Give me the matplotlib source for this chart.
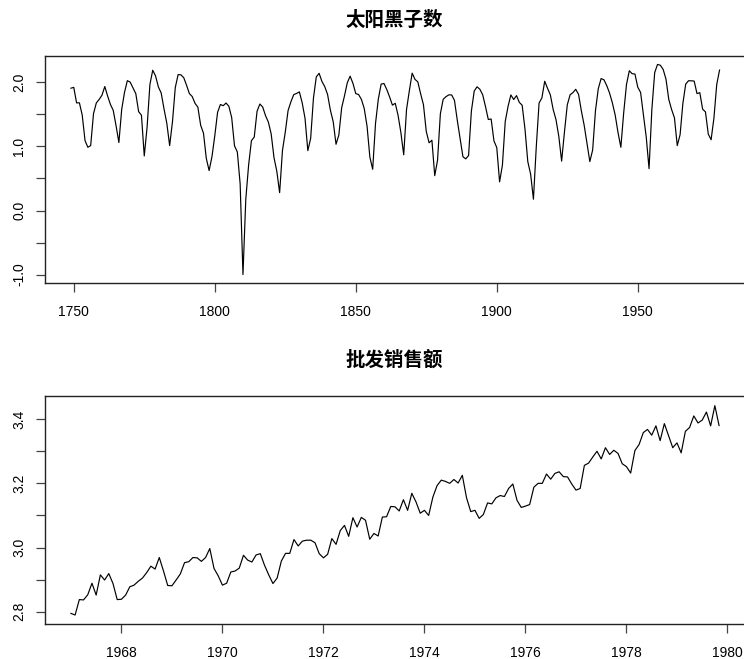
import numpy as np
import matplotlib
matplotlib.use("Agg")
import matplotlib.pyplot as plt

plt.rcParams['font.family'] = ['Liberation Sans', 'DejaVu Sans']

# yearly sunspot numbers, 1749-1979
sunspot_start = 1749
sunspot_counts = [
    80.9,
    83.4, 47.7, 47.8, 30.7, 12.2, 9.6, 10.2, 32.4, 47.6, 54.0,
    62.9, 85.9, 61.2, 45.1, 36.4, 20.9, 11.4, 37.8, 69.8, 106.1,
    100.8, 81.6, 66.5, 34.8, 30.6, 7.0, 19.8, 92.5, 154.4, 125.9,
    84.8, 68.1, 38.5, 22.8, 10.2, 24.1, 82.9, 132.0, 130.9, 118.1,
    89.9, 66.6, 60.0, 46.9, 41.0, 21.3, 16.0, 6.4, 4.1, 6.8,
    14.5, 34.0, 45.0, 43.1, 47.5, 42.2, 28.1, 10.1, 8.1, 2.5,
    0.0, 1.4, 5.0, 12.2, 13.9, 35.4, 45.8, 41.1, 30.1, 23.9,
    15.6, 6.6, 4.0, 1.8, 8.5, 16.6, 36.3, 49.6, 64.2, 67.0,
    70.9, 47.8, 27.5, 8.5, 13.2, 56.9, 121.5, 138.3, 103.2, 85.7,
    64.6, 36.7, 24.2, 10.7, 15.0, 40.1, 61.5, 98.5, 124.7, 96.3,
    66.6, 64.5, 54.1, 39.0, 20.6, 6.7, 4.3, 22.7, 54.8, 93.8,
    95.8, 77.2, 59.1, 44.0, 47.0, 30.5, 16.3, 7.3, 37.6, 74.0,
    139.0, 111.2, 101.6, 66.2, 44.7, 17.0, 11.3, 12.4, 3.4, 6.0,
    32.3, 54.3, 59.7, 63.7, 63.5, 52.2, 25.4, 13.1, 6.8, 6.3,
    7.1, 35.6, 73.0, 85.1, 78.0, 64.0, 41.8, 26.2, 26.7, 12.1,
    9.5, 2.7, 5.0, 24.4, 42.0, 63.5, 53.8, 62.0, 48.5, 43.9,
    18.6, 5.7, 3.6, 1.4, 9.6, 47.4, 57.1, 103.9, 80.6, 63.6,
    37.6, 26.1, 14.2, 5.8, 16.7, 44.3, 63.9, 69.0, 77.8, 64.9,
    35.7, 21.2, 11.1, 5.7, 8.7, 36.1, 79.7, 114.4, 109.6, 88.8,
    67.8, 47.5, 30.6, 16.3, 9.6, 33.2, 92.6, 151.6, 136.3, 134.7,
    83.9, 69.4, 31.5, 13.9, 4.4, 38.0, 141.7, 190.2, 184.8, 159.0,
    112.3, 53.9, 37.5, 27.9, 10.2, 15.1, 47.0, 93.8, 105.9, 105.5,
    104.5, 66.6, 68.9, 38.0, 34.5, 15.5, 12.6, 27.5, 92.5, 155.4,
]

# monthly wholesale sales (log10), Jan 1967 - Nov 1979
sales_start = 1967
sales_log = [
    2.795, 2.790, 2.838, 2.837, 2.853, 2.889, 2.852, 2.915, 2.899, 2.919, 2.888, 2.838,
    2.839, 2.852, 2.878, 2.883, 2.895, 2.905, 2.922, 2.942, 2.933, 2.969, 2.927, 2.882,
    2.881, 2.899, 2.918, 2.953, 2.956, 2.969, 2.968, 2.957, 2.969, 2.997, 2.935, 2.912,
    2.883, 2.889, 2.924, 2.927, 2.936, 2.976, 2.961, 2.955, 2.977, 2.981, 2.945, 2.915,
    2.888, 2.905, 2.958, 2.982, 2.982, 3.025, 3.005, 3.020, 3.023, 3.023, 3.015, 2.981,
    2.968, 2.979, 3.028, 3.010, 3.053, 3.069, 3.035, 3.093, 3.064, 3.094, 3.085, 3.026,
    3.044, 3.036, 3.095, 3.096, 3.128, 3.127, 3.114, 3.149, 3.116, 3.169, 3.142, 3.107,
    3.116, 3.100, 3.157, 3.193, 3.210, 3.206, 3.200, 3.212, 3.201, 3.225, 3.155, 3.112,
    3.116, 3.091, 3.103, 3.139, 3.136, 3.155, 3.162, 3.159, 3.184, 3.198, 3.147, 3.125,
    3.129, 3.134, 3.188, 3.200, 3.200, 3.229, 3.213, 3.231, 3.236, 3.221, 3.220, 3.198,
    3.179, 3.184, 3.256, 3.263, 3.282, 3.300, 3.276, 3.311, 3.290, 3.303, 3.293, 3.261,
    3.252, 3.232, 3.302, 3.321, 3.358, 3.368, 3.350, 3.379, 3.333, 3.386, 3.348, 3.311,
    3.326, 3.295, 3.362, 3.374, 3.410, 3.388, 3.397, 3.422, 3.379, 3.442, 3.380,
]

sun_title = "太阳黑子数"
sales_title = "批发销售额"

sun_x = sunspot_start + np.arange(len(sunspot_counts))
sun_y = np.log10(np.array(sunspot_counts) + 0.1)
sales_x = sales_start + np.arange(len(sales_log)) / 12.0
sales_y = np.array(sales_log)

W, H = 744, 659
fig = plt.figure(figsize=(W / 100, H / 100), dpi=100)


def px_axes(left, right, top, bottom):
    return fig.add_axes([left / W, 1 - bottom / H, (right - left) / W, (bottom - top) / H])


def r_style(ax):
    for side in ("left", "bottom", "top"):
        ax.spines[side].set_linewidth(1.0)
        ax.spines[side].set_color("#222222")
    ax.spines["right"].set_visible(False)
    ax.tick_params(length=6.5, width=0.9, color="#444444", labelsize=10, direction="out")
    ax.tick_params(axis="x", pad=9.5)
    ax.tick_params(axis="y", pad=7)
    for lab in ax.get_yticklabels():
        lab.set_rotation(90)
        lab.set_va("center")


# sunspots
ax1 = px_axes(45, 745.5, 56, 283)
ax1.plot(sun_x, sun_y, color="black", lw=0.85)
ax1.set_xlim(1739.8, 1988.2)
ax1.set_ylim(-1.131, 2.411)
ax1.set_xticks(np.arange(1750, 1951, 50))
yt = np.arange(-1.0, 2.01, 0.5)
ax1.set_yticks(yt, ["%.1f" % v if v == int(v) else "" for v in yt])
r_style(ax1)
fig.text(394 / W, 1 - 20 / H, sun_title, ha="center", va="center", fontsize=14,
         fontweight="bold", family=["Noto Sans CJK SC", "DejaVu Sans"])

# wholesale sales
ax2 = px_axes(45, 745, 396, 624)
ax2.plot(sales_x, sales_y, color="black", lw=0.85)
ax2.set_xlim(1966.487, 1980.347)
ax2.set_ylim(2.762, 3.472)
ax2.set_xticks(np.arange(1968, 1981, 2))
yt2 = np.round(np.arange(2.8, 3.41, 0.1), 1)
ax2.set_yticks(yt2, ["%.1f" % v if round(v * 10) % 2 == 0 else "" for v in yt2])
r_style(ax2)
fig.text(394 / W, 1 - 360 / H, sales_title, ha="center", va="center", fontsize=14,
         fontweight="bold", family=["Noto Sans CJK SC", "DejaVu Sans"])

fig.savefig("out.png", dpi=100)
